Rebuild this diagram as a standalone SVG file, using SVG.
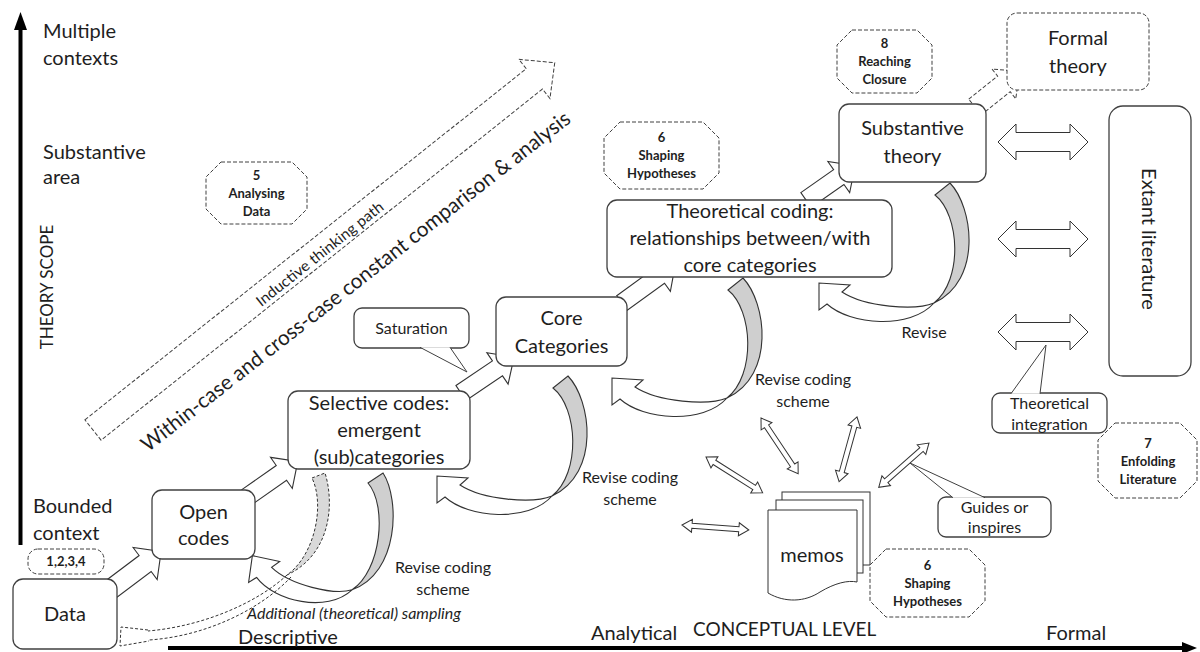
<svg xmlns="http://www.w3.org/2000/svg" xmlns:xlink="http://www.w3.org/1999/xlink" width="1200" height="652" viewBox="0 0 1200 652">
  <style>
    .t { font-family: Lato, "Liberation Sans", sans-serif; fill: #1e1e1e; }
    .lbl { font-size: 20px; }
    .sm { font-size: 16px; }
    .oct { font-size: 13px; font-weight: bold; }
    .box { fill: #fff; stroke: #404040; stroke-width: 1.3; }
    .dbox { fill: #fff; stroke: #404040; stroke-width: 1; stroke-dasharray: 4 2; }
    .fat { fill: #fff; stroke: #333; stroke-width: 1.1; stroke-linejoin: miter; }
    .thin { fill: #fff; stroke: #333; stroke-width: 1; }
    .crescent { fill: #cfcfcf; stroke: #333; stroke-width: 1.1; }
    .band { fill: #fff; stroke: #333; stroke-width: 1.1; }
    .axis { stroke: #000; stroke-width: 4; fill: none; }
  </style>
  <defs>
    <!-- curved "revise" arrow: shaded back crescent plus white band ending in a head -->
    <g id="curl">
      <path class="crescent" vector-effect="non-scaling-stroke" d="M0,0 L15,-12 C38,12 48,85 -1,108 C28,85 25,20 0,0 Z"/>
      <path class="band" vector-effect="non-scaling-stroke" d="M-1,108 C-20,116 -70,112 -93,97 L-85,90 L-116,88 L-116,115 L-108,109 C-85,130 -25,135 -1,108 Z"/>
    </g>
    <!-- narrow two-headed arrow used around the memos -->
    <path id="dbl" class="thin" d="M0,0 L10,-6.5 V-2.5 H57 V-6.5 L67,0 L57,6.5 V2.5 H10 V6.5 Z"/>
    <!-- wide two-headed arrow towards the literature -->
    <path id="wide" class="thin" d="M998,0 L1016,-18 V-9.5 H1070 V-18 L1088,0 L1070,18 V9.5 H1016 V18 Z"/>
  </defs>

  <rect width="1200" height="652" fill="#fff"/>

  <!-- axes -->
  <g id="axes">
    <line class="axis" x1="20.5" y1="545" x2="20.5" y2="26"/>
    <polygon points="20.5,12 14,30 27,30" fill="#000"/>
    <line class="axis" x1="168" y1="648" x2="1184" y2="648"/>
    <polygon points="1197,648 1182,642 1182,654" fill="#000"/>
    <text class="t lbl" x="43" y="38">Multiple</text>
    <text class="t lbl" x="43" y="65">contexts</text>
    <text class="t lbl" x="43" y="159">Substantive</text>
    <text class="t lbl" x="43" y="184">area</text>
    <text class="t" font-size="17" text-anchor="middle" transform="translate(53,287) rotate(-90)">THEORY SCOPE</text>
    <text class="t lbl" x="33" y="513">Bounded</text>
    <text class="t lbl" x="33" y="540">context</text>
    <text class="t lbl" x="238" y="644">Descriptive</text>
    <text class="t lbl" x="591" y="640">Analytical</text>
    <text class="t" font-size="19" x="693" y="636">CONCEPTUAL LEVEL</text>
    <text class="t lbl" x="1046" y="640">Formal</text>
  </g>

  <!-- inductive thinking path -->
  <g id="inductive">
    <path class="dbox" transform="translate(93,430) rotate(-38.5)" d="M0,-13 H564 V-25 L590,0 L564,25 V13 H0 Z"/>
    <text class="t" font-size="15" text-anchor="middle" textLength="158" lengthAdjust="spacingAndGlyphs" transform="translate(323,258) rotate(-38.5)">Inductive thinking path</text>
    <text class="t" font-size="21" text-anchor="middle" textLength="538" lengthAdjust="spacingAndGlyphs" transform="translate(360,287) rotate(-38)">Within-case and cross-case constant comparison &amp; analysis</text>
  </g>

  <g id="connectors">
    <!-- forward steps between stages -->
    <path class="fat" transform="translate(110,590) rotate(-37)" d="M0,-10 H44 V-20 L64,0 L44,20 V10 H0 Z"/>
    <path class="fat" transform="translate(247,497) rotate(-35)" d="M0,-9 H42 V-19 L62,0 L42,19 V9 H0 Z"/>
    <path class="fat" transform="translate(461,393) rotate(-34)" d="M0,-9 H44 V-19 L64,0 L44,19 V9 H0 Z"/>
    <path class="fat" transform="translate(622,303) rotate(-36)" d="M0,-9 H46 V-19 L66,0 L46,19 V9 H0 Z"/>
    <path class="fat" transform="translate(806,200) rotate(-35)" d="M0,-9 H40 V-19 L60,0 L40,19 V9 H0 Z"/>
    <path class="dbox" transform="translate(975,107) rotate(-38.6)" d="M0,-10 H37 V-19 L57,0 L37,19 V10 H0 Z"/>

    <!-- revise loops -->
    <use xlink:href="#curl" href="#curl" transform="translate(368,483) rotate(8) scale(0.9,1)"/>
    <use xlink:href="#curl" href="#curl" transform="translate(553,388)"/>
    <use xlink:href="#curl" href="#curl" transform="translate(728,290)"/>
    <use xlink:href="#curl" href="#curl" transform="translate(935,195)"/>

    <!-- additional (theoretical) sampling loop back to the data -->
    <path fill="#d9d9d9" stroke="#333" stroke-width="1" stroke-dasharray="3 2" d="M312,478 L325,473 C335,505 330,555 287,575 C315,555 325,505 312,478 Z"/>
    <path fill="none" stroke="#333" stroke-width="1" stroke-dasharray="3 2" d="M287,575 C258,602 205,626 148,631"/>
    <path fill="none" stroke="#333" stroke-width="1" stroke-dasharray="3 2" d="M291,577 C262,608 208,636 149,640"/>
    <path fill="none" stroke="#333" stroke-width="1" stroke-dasharray="3 2" d="M148,630 L121,627 L120,646 L149,641"/>

    <!-- memo links -->
    <use xlink:href="#dbl" href="#dbl" transform="translate(682,525) rotate(4.3)"/>
    <use xlink:href="#dbl" href="#dbl" transform="translate(706,457) rotate(32.3)"/>
    <use xlink:href="#dbl" href="#dbl" transform="translate(761,418) rotate(56.3)"/>
    <use xlink:href="#dbl" href="#dbl" transform="translate(857,417) rotate(105.5)"/>
    <use xlink:href="#dbl" href="#dbl" transform="translate(929,443) rotate(138.6)"/>

    <!-- links to extant literature -->
    <use xlink:href="#wide" href="#wide" transform="translate(0,142)"/>
    <use xlink:href="#wide" href="#wide" transform="translate(0,239)"/>
    <use xlink:href="#wide" href="#wide" transform="translate(0,332)"/>
  </g>

  <!-- stage boxes -->
  <g id="data">
    <rect class="box" x="13" y="579" width="104" height="70" rx="10"/>
    <text class="t lbl" x="65" y="621" text-anchor="middle">Data</text>
  </g>
  <g id="open-codes">
    <rect class="box" x="152" y="490" width="103" height="69" rx="10"/>
    <text class="t lbl" x="203.5" y="519" text-anchor="middle">Open</text>
    <text class="t lbl" x="203.5" y="545" text-anchor="middle">codes</text>
  </g>
  <g id="selective-codes">
    <rect class="box" x="288" y="391" width="182" height="78" rx="10"/>
    <text class="t lbl" x="379" y="410" text-anchor="middle">Selective codes:</text>
    <text class="t lbl" x="379" y="437" text-anchor="middle">emergent</text>
    <text class="t lbl" x="379" y="464" text-anchor="middle">(sub)categories</text>
  </g>
  <g id="core-categories">
    <rect class="box" x="496" y="297" width="131" height="69" rx="10"/>
    <text class="t lbl" x="561.5" y="325" text-anchor="middle">Core</text>
    <text class="t lbl" x="561.5" y="353" text-anchor="middle">Categories</text>
  </g>
  <g id="theoretical-coding">
    <rect class="box" x="607" y="200" width="285" height="77" rx="10"/>
    <text class="t lbl" x="750" y="218" text-anchor="middle">Theoretical coding:</text>
    <text class="t lbl" x="750" y="245" text-anchor="middle">relationships between/with</text>
    <text class="t lbl" x="750" y="272" text-anchor="middle">core categories</text>
  </g>
  <g id="substantive-theory">
    <rect class="box" x="839" y="104" width="147" height="78" rx="10"/>
    <text class="t lbl" x="912.5" y="135" text-anchor="middle">Substantive</text>
    <text class="t lbl" x="912.5" y="163" text-anchor="middle">theory</text>
  </g>
  <g id="formal-theory">
    <rect class="dbox" x="1007" y="13" width="142" height="77" rx="10"/>
    <text class="t lbl" x="1078" y="45" text-anchor="middle">Formal</text>
    <text class="t lbl" x="1078" y="73" text-anchor="middle">theory</text>
  </g>
  <g id="extant-literature">
    <rect class="box" x="1109" y="106" width="82" height="270" rx="14"/>
    <text class="t lbl" text-anchor="middle" transform="translate(1142,239) rotate(90)">Extant literature</text>
  </g>

  <g id="memos">
    <rect class="thin" x="782" y="492" width="88" height="73"/>
    <rect class="thin" x="776" y="500" width="87" height="73"/>
    <path class="thin" d="M768,510 H857 V582 C848,580 835,583 820,592 C805,602 785,603 768,593 Z"/>
    <text class="t lbl" x="812" y="562" text-anchor="middle">memos</text>
  </g>

  <!-- callouts -->
  <g id="saturation">
    <rect class="box" x="354" y="308" width="115" height="40" rx="8" stroke-width="1"/>
    <path d="M420,347.3 L467,372 L450,347.3" fill="#fff" stroke="#404040" stroke-width="1"/>
    <text class="t sm" x="411.5" y="334" text-anchor="middle">Saturation</text>
  </g>
  <g id="guides">
    <rect class="box" x="938" y="497" width="113" height="40" rx="8" stroke-width="1"/>
    <path d="M953,497.7 L910,463 L985,497.7" fill="#fff" stroke="#404040" stroke-width="1"/>
    <text class="t sm" x="994.5" y="513" text-anchor="middle">Guides or</text>
    <text class="t sm" x="994.5" y="533" text-anchor="middle">inspires</text>
  </g>
  <g id="theoretical-integration">
    <rect class="box" x="992" y="393" width="115" height="40" rx="8" stroke-width="1"/>
    <path d="M1011,393.7 L1046,345 L1040,393.7" fill="#fff" stroke="#404040" stroke-width="1"/>
    <text class="t sm" x="1049.5" y="409" text-anchor="middle">Theoretical</text>
    <text class="t sm" x="1049.5" y="430" text-anchor="middle">integration</text>
  </g>

  <!-- loop labels -->
  <g id="loop-labels">
    <text class="t sm" x="443" y="573" text-anchor="middle">Revise coding</text>
    <text class="t sm" x="443" y="595" text-anchor="middle">scheme</text>
    <text class="t sm" x="247" y="619" font-style="italic">Additional (theoretical) sampling</text>
    <text class="t sm" x="630" y="483" text-anchor="middle">Revise coding</text>
    <text class="t sm" x="630" y="505" text-anchor="middle">scheme</text>
    <text class="t sm" x="803" y="385" text-anchor="middle">Revise coding</text>
    <text class="t sm" x="803" y="407" text-anchor="middle">scheme</text>
    <text class="t sm" x="924" y="338" text-anchor="middle">Revise</text>
  </g>

  <!-- process steps -->
  <g id="step-1-4">
    <rect class="dbox" x="28" y="549" width="76" height="25" rx="10"/>
    <text class="t oct" x="66" y="566" text-anchor="middle">1,2,3,4</text>
  </g>
  <g id="step-5">
    <path class="dbox" d="M221,162 H292 L307,177 V209 L292,224 H221 L206,209 V177 Z"/>
    <text class="t oct" x="256.5" y="180" text-anchor="middle">5</text>
    <text class="t oct" x="256.5" y="198" text-anchor="middle">Analysing</text>
    <text class="t oct" x="256.5" y="216" text-anchor="middle">Data</text>
  </g>
  <g id="step-6-top">
    <path class="dbox" d="M620,122 H703 L719,138 V173 L703,189 H620 L604,173 V138 Z"/>
    <text class="t oct" x="661.5" y="142" text-anchor="middle">6</text>
    <text class="t oct" x="661.5" y="160" text-anchor="middle">Shaping</text>
    <text class="t oct" x="661.5" y="178" text-anchor="middle">Hypotheses</text>
  </g>
  <g id="step-8">
    <path class="dbox" d="M852,30 H917 L932,45 V78 L917,93 H852 L837,78 V45 Z"/>
    <text class="t oct" x="884.5" y="48" text-anchor="middle">8</text>
    <text class="t oct" x="884.5" y="66" text-anchor="middle">Reaching</text>
    <text class="t oct" x="884.5" y="84" text-anchor="middle">Closure</text>
  </g>
  <g id="step-7">
    <path class="dbox" d="M1115,423 H1180 L1197,440 V481 L1180,498 H1115 L1098,481 V440 Z"/>
    <text class="t oct" x="1148" y="448" text-anchor="middle">7</text>
    <text class="t oct" x="1148" y="466" text-anchor="middle">Enfolding</text>
    <text class="t oct" x="1148" y="484" text-anchor="middle">Literature</text>
  </g>
  <g id="step-6-bottom">
    <path class="dbox" d="M886,549 H969 L985,565 V601 L969,617 H886 L870,601 V565 Z"/>
    <text class="t oct" x="927.5" y="570" text-anchor="middle">6</text>
    <text class="t oct" x="927.5" y="588" text-anchor="middle">Shaping</text>
    <text class="t oct" x="927.5" y="606" text-anchor="middle">Hypotheses</text>
  </g>
</svg>
